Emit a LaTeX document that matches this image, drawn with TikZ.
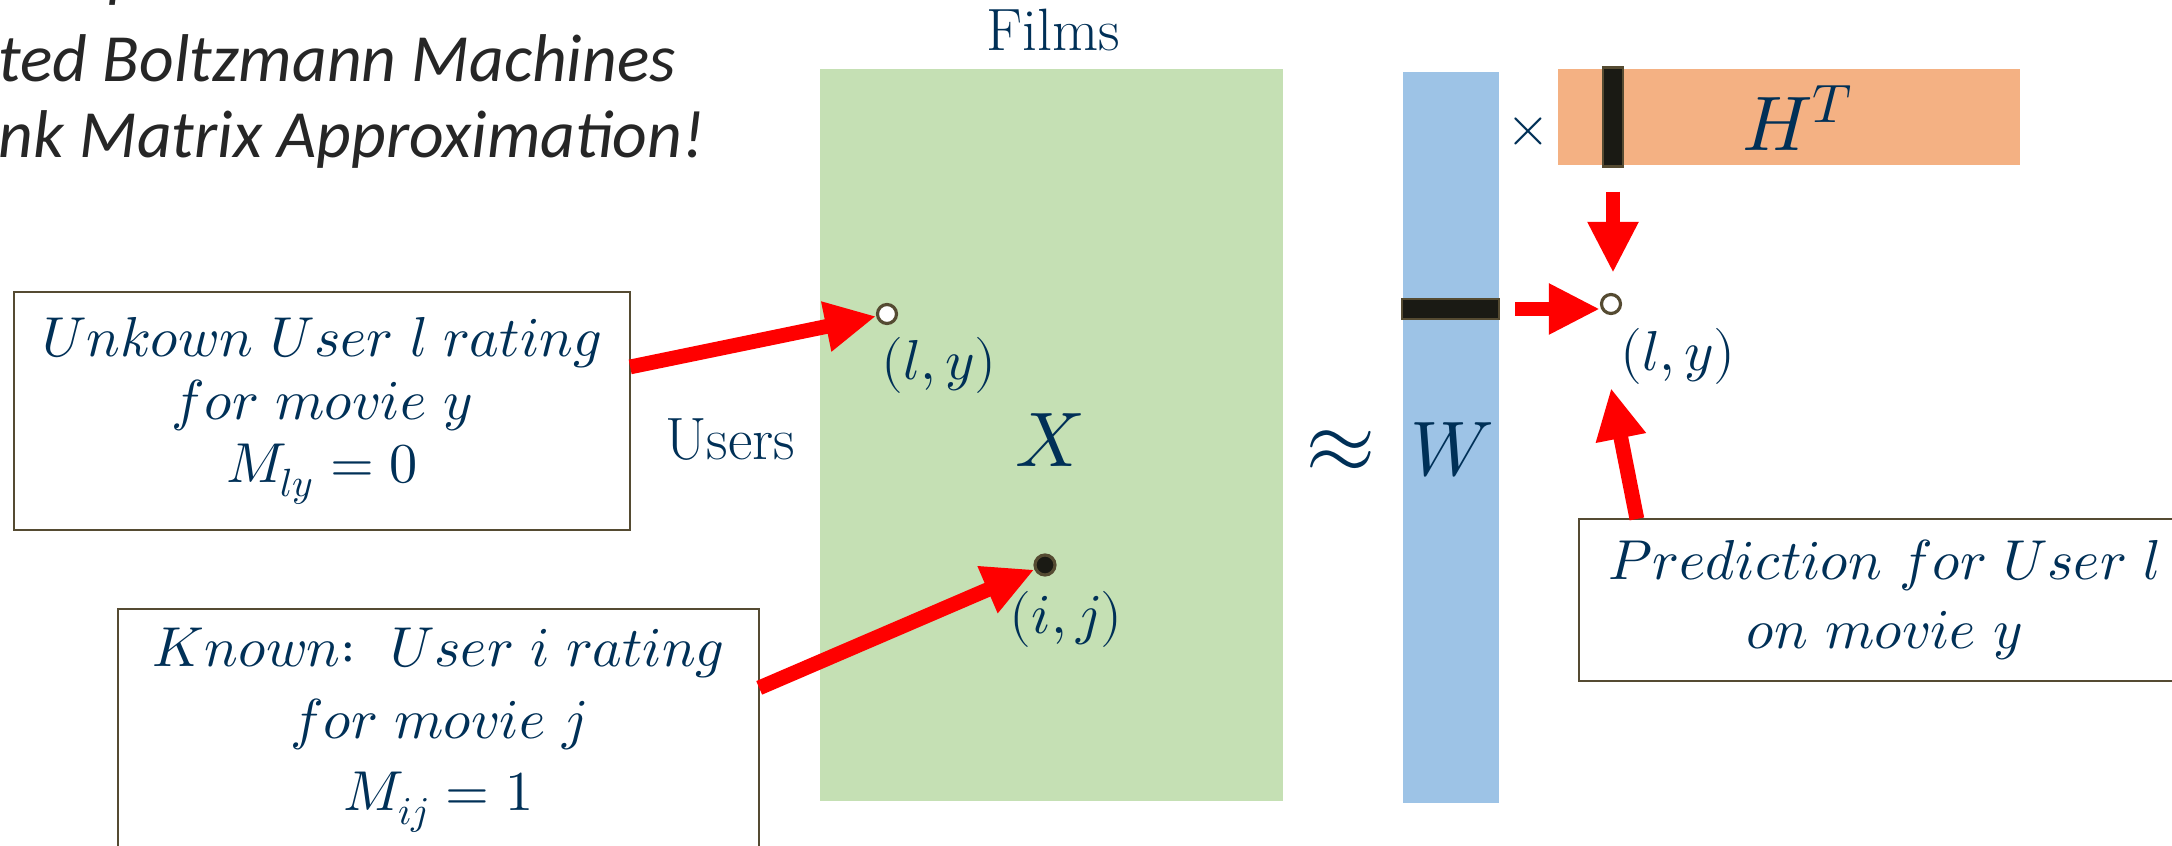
\documentclass[tikz,border=0pt]{standalone}
\usepackage{unicode-math}
\setmathfont{Latin Modern Math}
\newfontfamily\calibri{Carlito}
\usetikzlibrary{arrows.meta,calc}
\definecolor{txtblue}{RGB}{0,48,87}
\definecolor{greenfill}{RGB}{197,224,180}
\definecolor{bluefill}{RGB}{157,195,230}
\definecolor{orangefill}{RGB}{244,177,131}
\definecolor{olive}{RGB}{85,75,50}
\definecolor{bardark}{RGB}{26,26,20}
\definecolor{titlegray}{RGB}{38,38,38}
\tikzset{
  redarrow/.style={draw=red, line width=4.2pt, -{Triangle[length=14.5pt,width=13.5pt]}},
  textbox/.style={draw=olive, line width=0.7pt, fill=white, text=txtblue, align=center, inner sep=0pt, outer sep=0pt},
  lbl/.style={text=txtblue, inner sep=0pt},
  opendot/.style={circle, draw=olive, line width=0.9pt, fill=white, minimum size=0.19cm, inner sep=0pt},
  fulldot/.style={circle, draw=olive, line width=0.9pt, fill=bardark, minimum size=0.2cm, inner sep=0pt},
  bar/.style={draw=olive, line width=0.8pt, fill=bardark, inner sep=0pt, outer sep=0pt},
  matrixfill/.style={inner sep=0pt, outer sep=0pt},
  titletext/.style={text=titlegray, inner sep=0pt, font=\calibri\itshape\fontsize{19.2}{23}\selectfont}
}
\begin{document}
\begin{tikzpicture}[x=0.01cm,y=-0.01cm]
\useasboundingbox[fill=white] (0,0) rectangle (2172,846);

% title fragments
\node[titletext, anchor=base west] (tp) at (108,-5) {p};
\node[titletext, anchor=base west] (t1) at (-2,82) {ted Boltzmann Machines};
\node[titletext, anchor=base west] (t2) at (-2,158) {nk Matrix Approximation!};

% matrices
\node[matrixfill, fill=greenfill, minimum width=4.63cm, minimum height=7.32cm] (Xmat) at (1051.5,435) {};
\node[matrixfill, fill=bluefill, minimum width=0.96cm, minimum height=7.31cm] (Wmat) at (1451,437.5) {};
\node[matrixfill, fill=orangefill, minimum width=4.62cm, minimum height=0.96cm] (Hmat) at (1789,117) {};

\node[bar, minimum width=0.2cm, minimum height=0.99cm] (hbar) at (1613,117) {};
\node[bar, minimum width=0.97cm, minimum height=0.2cm] (wbar) at (1450.5,309) {};

% labels
\node[lbl, font=\fontsize{17}{20}\selectfont] (films) at (1053,30) {Films};
\node[lbl, font=\fontsize{17}{20}\selectfont] (users) at (730,440) {Users};
\node[lbl, font=\fontsize{22}{26}\selectfont] (Xlbl) at (1049,440) {$X$};
\node[lbl, font=\fontsize{26}{30}\selectfont] (approx) at (1341,452) {$\approx$};
\node[lbl, font=\fontsize{22}{26}\selectfont] (Wlbl) at (1452,450) {$W$};
\node[lbl, font=\fontsize{16}{19}\selectfont] (times) at (1528,132) {$\times$};
\node[lbl, font=\fontsize{22}{26}\selectfont] (Hlbl) at (1798,118) {$H^{T}$};

% dots
\node[opendot] (dotly) at (887,314) {};
\node[fulldot] (dotij) at (1045,565) {};
\node[opendot] (dotpred) at (1611,304) {};
\node[lbl, font=\fontsize{16}{19}\selectfont] (lylbl) at (939,365) {$(l,y)$};
\node[lbl, font=\fontsize{16}{19}\selectfont] (ijlbl) at (1066,619) {$(i,j)$};
\node[lbl, font=\fontsize{16}{19}\selectfont] (predlbl) at (1678,356) {$(l,y)$};

% boxes
\node[textbox, minimum width=6.16cm, minimum height=2.38cm, font=\fontsize{16}{18}\selectfont] (box1) at (322,411)
  {$Unkown\ User\ l\ rating$\\ $for\ movie\ y$\\ $M_{ly}=0$};
\node[textbox, minimum width=6.41cm, minimum height=2.42cm, font=\fontsize{16}{20.5}\selectfont] (box2) at (438.5,730)
  {$Known{:}\ \ User\ i\ rating$\\ $for\ movie\ j$\\ $M_{ij}=1$};
\node[textbox, minimum width=6.11cm, minimum height=1.62cm, font=\fontsize{16}{19.6}\selectfont] (box3) at (1884.5,600)
  {$Prediction\ for\ User\ l$\\ $on\ movie\ y$};

\coordinate (predtip) at (1611,388);

% arrows
\draw[redarrow] ($(box1.north east)!0.315!(box1.south east)$) -- (dotly);
\draw[redarrow] ($(box2.north east)!0.326!(box2.south east)$) -- (dotij);
\draw[redarrow] ($(box3.north west)!0.095!(box3.north east)$) -- (predtip);
\draw[redarrow, shorten <=0.25cm, shorten >=0.2cm] (hbar.south) -- (hbar.south |- dotpred.north);
\draw[redarrow, shorten <=0.16cm] (wbar.east) -- (wbar.east -| dotpred.west);
\end{tikzpicture}
\end{document}
